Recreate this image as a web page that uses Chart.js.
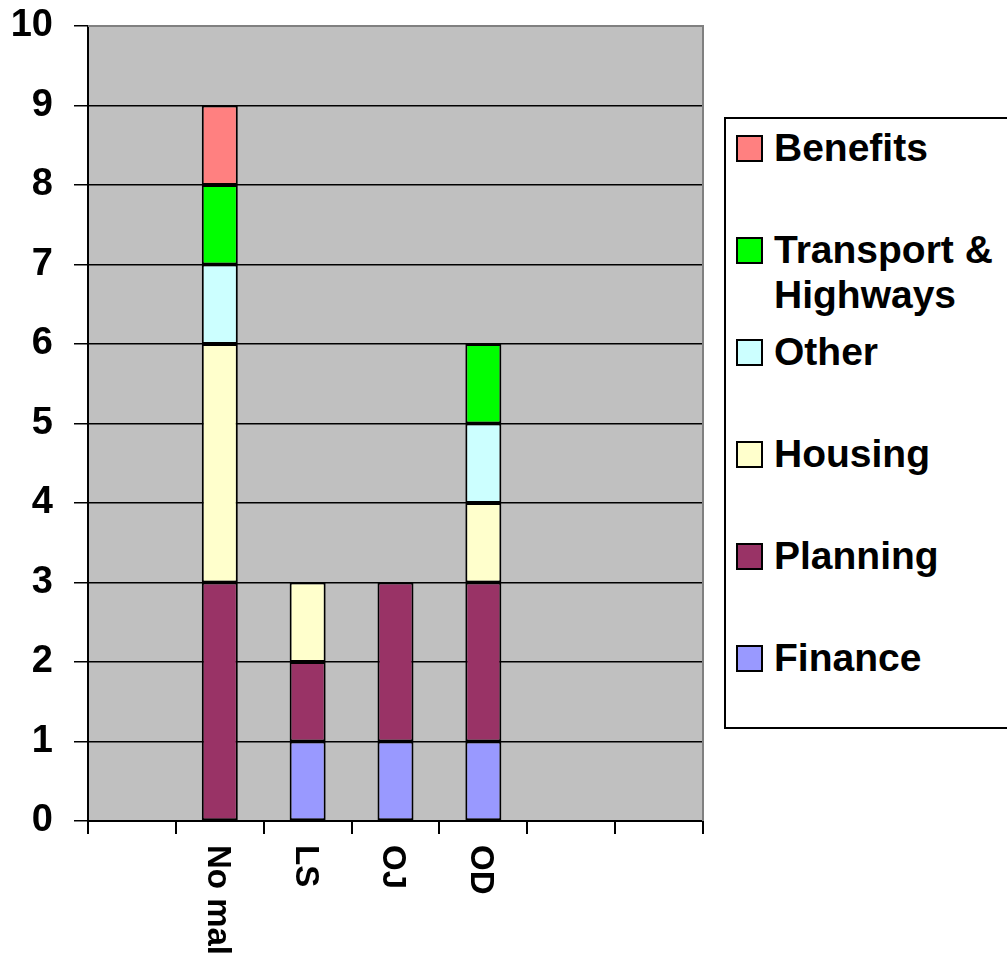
<!DOCTYPE html>
<html>
<head>
<meta charset="utf-8">
<script src="https://cdn.jsdelivr.net/npm/chart.js@4/dist/chart.umd.min.js"></script>
<style>
  body { margin: 0; background: #fff; }
  #wrap { position: relative; width: 1007px; height: 953px; overflow: hidden; }
  #legend {
    position: absolute; left: 724px; top: 117px; width: 300px; height: 612px;
    box-sizing: border-box; border: 2px solid #000; background: #fff;
    padding: 6px 0 0 10px;
    font: bold 39px "Liberation Sans", Arial, sans-serif; line-height: 45px; color: #000;
  }
  .item { display: flex; align-items: flex-start; height: 102px; }
  .swatch {
    flex: none; width: 27px; height: 27px; box-sizing: border-box;
    border: 2px solid #000; margin-top: 10px; margin-right: 11px;
  }
  .label { width: 232px; }
</style>
</head>
<body>
<div id="wrap">
  <canvas id="chart" width="1007" height="953"></canvas>
  <div id="legend"></div>
</div>
<script>
// categories (empty slots keep the original axis spacing)
const categories = ["", "No mal", "LS", "OJ", "OD", "", ""];

// series values, bottom of the stack first
const finance   = [null, null, 1, 1, 1, null, null];
const planning  = [null, 3, 1, 2, 2, null, null];
const housing   = [null, 3, 1, null, 1, null, null];
const other     = [null, 1, null, null, 1, null, null];
const transport = [null, 1, null, null, 1, null, null];
const benefits  = [null, 1, null, null, null, null, null];

const yTicks = [0, 1, 2, 3, 4, 5, 6, 7, 8, 9, 10];

const FONT = '"Liberation Sans", Arial, sans-serif';

/**
 * Grey plot background with the thin grey frame on top and right.
 */
const plotBackground = {
  id: "plotBackground",
  beforeDraw(chart) {
    const { ctx, chartArea: a } = chart;
    ctx.save();
    ctx.fillStyle = "#c0c0c0";
    ctx.fillRect(a.left, a.top, a.right - a.left, a.bottom - a.top);
    ctx.restore();
  },
  afterDatasetsDraw(chart) {
    const { ctx, chartArea: a } = chart;
    ctx.save();
    ctx.strokeStyle = "#808080";
    ctx.lineWidth = 2;
    ctx.beginPath();
    ctx.moveTo(a.left, a.top);
    ctx.lineTo(a.right, a.top);
    ctx.lineTo(a.right, a.bottom);
    ctx.stroke();
    ctx.restore();
  },
};

/**
 * Category labels rotated clockwise (read top to bottom).
 */
const verticalLabels = {
  id: "verticalLabels",
  afterDraw(chart) {
    const { ctx } = chart;
    const x = chart.scales.x;
    ctx.save();
    ctx.font = "bold 33px " + FONT;
    ctx.fillStyle = "#000";
    ctx.textAlign = "left";
    ctx.textBaseline = "middle";
    categories.forEach((label, i) => {
      if (!label) return;
      ctx.save();
      ctx.translate(x.getPixelForValue(i) - 3, x.top + 24);
      ctx.rotate(Math.PI / 2);
      ctx.fillText(label, 0, 0);
      ctx.restore();
    });
    ctx.restore();
  },
};

function series(label, data, color) {
  return {
    label,
    data,
    backgroundColor: color,
    borderColor: "#000",
    borderWidth: 2,
    borderSkipped: false,
    categoryPercentage: 1,
    barPercentage: 0.41,
  };
}

const chart = new Chart(document.getElementById("chart"), {
  type: "bar",
  data: {
    labels: categories,
    datasets: [
      series("Finance", finance, "#9999ff"),
      series("Planning", planning, "#993366"),
      series("Housing", housing, "#ffffcc"),
      series("Other", other, "#ccffff"),
      series("Transport & Highways", transport, "#00ff00"),
      series("Benefits", benefits, "#ff8080"),
    ],
  },
  options: {
    responsive: false,
    animation: false,
    layout: { padding: { top: 26, right: 304, left: 0, bottom: 0 } },
    plugins: { legend: { display: false }, tooltip: { enabled: false } },
    scales: {
      x: {
        stacked: true,
        offset: true,
        grid: {
          offset: true,
          drawOnChartArea: false,
          color: "#000",
          lineWidth: 2,
          tickLength: 13,
        },
        border: { color: "#000", width: 2 },
        ticks: { display: false },
        afterFit(scale) {
          scale.height = 132;
          scale.paddingLeft = 0;
          scale.paddingRight = 0;
        },
      },
      y: {
        stacked: true,
        min: yTicks[0],
        max: yTicks[yTicks.length - 1],
        afterBuildTicks(scale) { scale.ticks = yTicks.map((v) => ({ value: v })); },
        grid: {
          color: (c) => (c.tick && c.tick.value === 10 ? "#808080" : "#000"),
          tickColor: "#000",
          lineWidth: 1.5,
          tickLength: 14,
        },
        border: { color: "#000", width: 2 },
        ticks: {
          color: "#000",
          padding: 21,
          font: { size: 38, weight: "bold", family: FONT },
        },
        afterFit(scale) {
          scale.width = 88;
          scale.paddingTop = 0;
          scale.paddingBottom = 0;
        },
      },
    },
  },
  plugins: [plotBackground, verticalLabels],
});

// HTML legend, built from the datasets, top of stack first
const legend = document.getElementById("legend");
chart.data.datasets.slice().reverse().forEach((ds) => {
  const item = document.createElement("div");
  item.className = "item";
  const sw = document.createElement("span");
  sw.className = "swatch";
  sw.style.background = ds.backgroundColor;
  const txt = document.createElement("span");
  txt.className = "label";
  txt.textContent = ds.label;
  item.appendChild(sw);
  item.appendChild(txt);
  legend.appendChild(item);
});
</script>
</body>
</html>
